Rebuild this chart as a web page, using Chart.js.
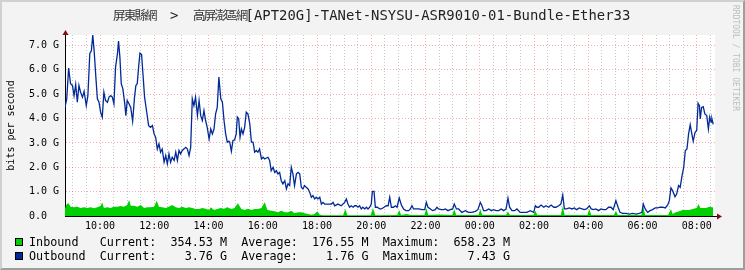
<!DOCTYPE html>
<html>
<head>
<meta charset="utf-8">
<script src="https://cdn.jsdelivr.net/npm/chart.js@4"></script>
<style>
  html, body { margin: 0; padding: 0; }
  body { width: 745px; height: 270px; overflow: hidden; position: relative; background: #f3f3f3; }
  #frame { position: absolute; left: 0; top: 0; width: 745px; height: 270px; box-sizing: border-box;
           border-top: 2px solid #d0d0d0; border-left: 2px solid #d0d0d0;
           border-right: 2px solid #9e9e9e; border-bottom: 2px solid #9e9e9e; }
  canvas { position: absolute; left: 0; top: 0; }
  .t { position: absolute; white-space: pre; color: #222; line-height: 16px; }
  .cjk { font-family: "Noto Sans CJK TC", "Noto Sans CJK SC", sans-serif; font-size: 12.5px; letter-spacing: -1.8px; top: 7px; color: #333; }
  .ttl { font-family: "DejaVu Sans Mono", monospace; font-size: 13.9px; top: 7px; }
  .leg { font-family: "DejaVu Sans Mono", monospace; font-size: 11.75px; line-height: 14px; color: #000; }
  .box { position: absolute; width: 6px; height: 6px; border: 1px solid #000; }
  #wm { position: absolute; left: 731px; top: 5px; writing-mode: vertical-rl; font-family: "DejaVu Sans Mono", monospace;
        font-size: 8px; line-height: 8px; color: #bdbdbd; white-space: pre; }
</style>
</head>
<body>
<div id="frame"></div>
<canvas id="rrd" width="745" height="270"></canvas>

<div class="t cjk" style="left:113px">屏東縣網</div>
<div class="t ttl" style="left:170px">&gt;</div>
<div class="t cjk" style="left:193px">高屏澎區網</div>
<div class="t ttl" style="left:245.6px">[APT20G]-TANet-NSYSU-ASR9010-01-Bundle-Ether33</div>
<div id="wm">RRDTOOL / TOBI OETIKER</div>

<div class="box" style="left:15px;top:238px;background:#00cf00"></div>
<div class="box" style="left:15px;top:252px;background:#002a97"></div>
<div class="t leg" style="left:29px;top:235px">Inbound   Current:  354.53 M  Average:  176.55 M  Maximum:  658.23 M</div>
<div class="t leg" style="left:29px;top:249px">Outbound  Current:    3.76 G  Average:    1.76 G  Maximum:    7.43 G</div>

<script>
// hours since midnight of the first day (values past 24 are the next morning)
const outHours = [
  8.70, 8.77, 8.84, 8.91, 8.98, 9.04, 9.10, 9.16, 9.22, 9.28, 9.35, 9.41, 9.49, 9.55, 9.62, 9.68, 9.73, 9.78, 9.84, 9.90,
  9.96, 10.02, 10.08, 10.14, 10.20, 10.27, 10.33, 10.39, 10.45, 10.51, 10.57, 10.64, 10.68, 10.73, 10.78, 10.84, 10.91, 10.95, 11.00, 11.07,
  11.13, 11.20, 11.27, 11.32, 11.37, 11.42, 11.47, 11.53, 11.58, 11.64, 11.72, 11.79, 11.86, 11.93, 11.99, 12.05, 12.11, 12.17, 12.23, 12.29,
  12.36, 12.42, 12.48, 12.54, 12.60, 12.66, 12.73, 12.79, 12.85, 12.91, 12.97, 13.03, 13.09, 13.16, 13.22, 13.28, 13.34, 13.40, 13.46, 13.52,
  13.59, 13.65, 13.71, 13.77, 13.83, 13.89, 13.95, 14.02, 14.08, 14.14, 14.20, 14.26, 14.32, 14.38, 14.45, 14.51, 14.57, 14.63, 14.69, 14.75,
  14.78, 14.84, 14.90, 14.96, 15.02, 15.06, 15.11, 15.16, 15.21, 15.27, 15.33, 15.39, 15.45, 15.52, 15.58, 15.64, 15.70, 15.76, 15.82, 15.88,
  15.95, 16.01, 16.07, 16.13, 16.19, 16.25, 16.31, 16.38, 16.44, 16.50, 16.56, 16.62, 16.68, 16.74, 16.81, 16.87, 16.93, 16.99, 17.05, 17.11,
  17.17, 17.24, 17.30, 17.36, 17.42, 17.48, 17.54, 17.60, 17.67, 17.73, 17.79, 17.85, 17.91, 17.97, 18.03, 18.10, 18.16, 18.22, 18.28, 18.40,
  18.53, 18.59, 18.65, 18.77, 18.89, 19.02, 19.08, 19.14, 19.20, 19.26, 19.33, 19.39, 19.45, 19.51, 19.57, 19.63, 19.69, 19.76, 19.82, 19.88,
  19.94, 20.00, 20.04, 20.10, 20.15, 20.22, 20.31, 20.37, 20.47, 20.55, 20.62, 20.68, 20.74, 20.82, 20.89, 20.95, 21.03, 21.11, 21.19, 21.28,
  21.38, 21.44, 21.50, 21.56, 21.65, 21.75, 21.87, 21.97, 22.03, 22.09, 22.18, 22.26, 22.36, 22.42, 22.48, 22.58, 22.67, 22.73, 22.83, 22.91,
  23.00, 23.06, 23.14, 23.22, 23.34, 23.47, 23.59, 23.71, 23.84, 23.93, 24.02, 24.08, 24.14, 24.23, 24.33, 24.43, 24.51, 24.60, 24.70, 24.79,
  24.88, 24.97, 25.04, 25.10, 25.19, 25.29, 25.37, 25.49, 25.62, 25.74, 25.86, 25.99, 26.05, 26.11, 26.17, 26.26, 26.36, 26.44, 26.54, 26.63,
  26.73, 26.81, 26.91, 26.99, 27.06, 27.12, 27.20, 27.30, 27.40, 27.49, 27.57, 27.67, 27.77, 27.85, 27.94, 28.04, 28.11, 28.20, 28.28, 28.38,
  28.47, 28.56, 28.65, 28.75, 28.84, 28.92, 29.02, 29.10, 29.17, 29.27, 29.39, 29.51, 29.64, 29.76, 29.88, 29.98, 30.03, 30.10, 30.19, 30.28,
  30.37, 30.47, 30.56, 30.65, 30.74, 30.84, 30.93, 30.99, 31.05, 31.11, 31.20, 31.26, 31.33, 31.39, 31.46, 31.52, 31.58, 31.64, 31.70, 31.76,
  31.82, 31.87, 31.94, 32.00, 32.05, 32.10, 32.13, 32.18, 32.24, 32.30, 32.37, 32.43, 32.48, 32.53, 32.56, 32.61
];
// outbound, Gbit/s
const outGbps = [
  4.44, 4.81, 6.07, 5.43, 5.36, 4.94, 5.40, 4.67, 5.36, 5.08, 4.88, 5.12, 4.53, 4.94, 6.66, 6.79, 7.43, 6.79, 5.77, 4.81,
  4.67, 4.26, 4.06, 5.08, 4.74, 4.67, 4.88, 4.94, 4.88, 4.60, 6.11, 6.66, 7.18, 6.52, 5.43, 5.22, 4.60, 4.12, 4.74, 4.60,
  4.46, 3.89, 4.88, 5.36, 5.43, 6.11, 6.69, 6.63, 5.84, 4.88, 4.26, 3.71, 3.64, 3.71, 3.37, 3.23, 2.75, 2.96, 2.62, 2.75,
  2.21, 2.48, 2.14, 2.55, 2.21, 2.41, 2.28, 2.62, 2.28, 2.69, 2.55, 2.69, 2.75, 2.82, 2.75, 2.48, 2.82, 4.81, 4.53, 4.88,
  4.12, 4.74, 4.12, 3.92, 4.33, 3.92, 3.64, 3.16, 3.57, 3.37, 3.57, 4.19, 4.46, 5.70, 4.81, 4.67, 3.92, 3.37, 3.03, 3.07,
  3.03, 2.66, 3.10, 3.12, 3.37, 4.06, 3.99, 3.23, 3.57, 3.37, 3.64, 4.26, 4.19, 3.78, 3.03, 3.03, 2.62, 2.69, 2.62, 2.75,
  2.34, 2.41, 2.34, 2.38, 2.41, 2.28, 1.86, 2.00, 1.79, 1.86, 1.73, 1.79, 1.45, 1.32, 1.45, 1.11, 1.32, 1.25, 2.00, 1.73,
  1.25, 1.73, 1.79, 1.73, 1.18, 1.11, 1.25, 1.18, 1.11, 0.97, 0.77, 0.84, 0.70, 0.77, 0.70, 0.77, 0.49, 0.56, 0.49, 0.49,
  0.49, 0.56, 0.42, 0.49, 0.42, 0.56, 0.70, 0.49, 0.36, 0.42, 0.36, 0.42, 0.42, 0.36, 0.42, 0.29, 0.36, 0.29, 0.36, 0.29,
  0.36, 0.49, 1.01, 1.01, 0.36, 0.36, 0.29, 0.29, 0.36, 0.42, 0.42, 0.77, 0.36, 0.36, 0.42, 0.36, 0.74, 0.45, 0.29, 0.22,
  0.22, 0.29, 0.42, 0.29, 0.29, 0.29, 0.26, 0.26, 0.56, 0.36, 0.29, 0.22, 0.26, 0.36, 0.29, 0.26, 0.26, 0.29, 0.22, 0.26,
  0.29, 0.49, 0.29, 0.29, 0.15, 0.22, 0.15, 0.15, 0.19, 0.26, 0.56, 0.42, 0.22, 0.22, 0.29, 0.22, 0.26, 0.22, 0.22, 0.29,
  0.22, 0.29, 0.73, 0.36, 0.22, 0.22, 0.29, 0.15, 0.15, 0.15, 0.22, 0.15, 0.42, 0.36, 0.36, 0.45, 0.36, 0.42, 0.36, 0.45,
  0.36, 0.36, 0.42, 0.49, 0.86, 0.29, 0.29, 0.33, 0.29, 0.33, 0.26, 0.33, 0.29, 0.26, 0.29, 0.42, 0.29, 0.26, 0.29, 0.22,
  0.29, 0.26, 0.26, 0.36, 0.36, 0.26, 0.63, 0.36, 0.15, 0.11, 0.11, 0.08, 0.11, 0.08, 0.11, 0.15, 0.49, 0.29, 0.15, 0.22,
  0.26, 0.33, 0.33, 0.36, 0.36, 0.33, 0.45, 0.63, 1.15, 1.04, 0.79, 0.90, 1.25, 1.18, 1.66, 2.00, 2.69, 2.75, 3.37, 3.75,
  3.37, 3.07, 3.44, 3.51, 4.63, 4.53, 3.99, 4.46, 4.49, 4.19, 4.12, 3.57, 4.06, 3.85, 3.99, 3.76
];

const inHours = [
  8.70, 8.77, 8.84, 8.91, 9.04, 9.16, 9.28, 9.41, 9.53, 9.65, 9.78, 9.90, 10.02, 10.08, 10.14, 10.27, 10.39, 10.51, 10.64, 10.76,
  10.88, 11.00, 11.07, 11.13, 11.25, 11.37, 11.50, 11.62, 11.74, 11.86, 11.99, 12.09, 12.17, 12.29, 12.42, 12.54, 12.66, 12.79, 12.91, 13.03,
  13.16, 13.28, 13.40, 13.52, 13.65, 13.77, 13.89, 14.02, 14.08, 14.20, 14.32, 14.45, 14.57, 14.69, 14.84, 14.96, 15.08, 15.21, 15.33, 15.45,
  15.58, 15.70, 15.82, 15.95, 16.07, 16.17, 16.31, 16.44, 16.56, 16.68, 16.81, 16.93, 17.05, 17.17, 17.30, 17.42, 17.54, 17.67, 17.79, 17.91,
  18.01, 18.10, 18.22, 18.96, 19.04, 19.12, 19.98, 20.06, 20.15, 20.96, 21.03, 21.10, 21.30, 21.45, 21.96, 22.03, 22.10, 22.50, 22.99, 23.06,
  23.13, 23.95, 24.02, 24.09, 24.60, 24.97, 25.04, 25.11, 25.98, 26.05, 26.12, 26.99, 27.06, 27.13, 27.97, 28.04, 28.11, 28.95, 29.02, 29.09,
  29.96, 30.03, 30.10, 30.95, 31.05, 31.11, 31.23, 31.36, 31.48, 31.60, 31.73, 31.85, 32.00, 32.07, 32.13, 32.22, 32.34, 32.47, 32.61
];
// inbound, Gbit/s
const inGbps = [
  0.29, 0.49, 0.52, 0.38, 0.36, 0.38, 0.33, 0.36, 0.33, 0.36, 0.32, 0.36, 0.41, 0.55, 0.33, 0.36, 0.33, 0.38, 0.38, 0.41,
  0.38, 0.45, 0.66, 0.42, 0.42, 0.38, 0.45, 0.33, 0.36, 0.36, 0.38, 0.63, 0.38, 0.36, 0.33, 0.38, 0.45, 0.36, 0.33, 0.38,
  0.33, 0.36, 0.33, 0.29, 0.29, 0.33, 0.30, 0.25, 0.36, 0.25, 0.29, 0.33, 0.30, 0.36, 0.29, 0.33, 0.52, 0.29, 0.25, 0.30,
  0.25, 0.29, 0.29, 0.33, 0.56, 0.25, 0.22, 0.19, 0.15, 0.22, 0.15, 0.15, 0.22, 0.11, 0.15, 0.15, 0.11, 0.08, 0.05, 0.08,
  0.19, 0.05, 0.03, 0.03, 0.29, 0.03, 0.03, 0.33, 0.03, 0.04, 0.25, 0.04, 0.08, 0.04, 0.04, 0.33, 0.04, 0.06, 0.04, 0.29,
  0.04, 0.04, 0.29, 0.04, 0.05, 0.04, 0.18, 0.04, 0.04, 0.22, 0.04, 0.04, 0.40, 0.04, 0.04, 0.29, 0.04, 0.04, 0.22, 0.04,
  0.04, 0.36, 0.04, 0.04, 0.29, 0.08, 0.15, 0.20, 0.25, 0.25, 0.25, 0.29, 0.33, 0.49, 0.33, 0.33, 0.33, 0.38, 0.35
];

const xMajorHours = [10, 12, 14, 16, 18, 20, 22, 24, 26, 28, 30, 32];
const xLabels = ['10:00', '12:00', '14:00', '16:00', '18:00', '20:00', '22:00', '00:00', '02:00', '04:00', '06:00', '08:00'];
const yMajor = [0, 1, 2, 3, 4, 5, 6, 7];
const yLabels = ['0.0  ', '1.0 G', '2.0 G', '3.0 G', '4.0 G', '5.0 G', '6.0 G', '7.0 G'];

const GRID = 'rgba(150,150,150,0.55)';
const MGRID = 'rgba(230,70,70,0.45)';
const MONO = 'DejaVu Sans Mono';

function pairs(xs, ys) {
  return xs.map((x, i) => ({ x: x, y: ys[i] }));
}

// white canvas behind the plot and the two red axis arrows
const rrdDecor = {
  id: 'rrdDecor',
  beforeDraw(chart) {
    const { ctx, chartArea: a } = chart;
    ctx.save();
    ctx.fillStyle = '#ffffff';
    ctx.fillRect(a.left, a.top, a.right - a.left, a.bottom - a.top);
    ctx.restore();
  },
  afterDraw(chart) {
    const { ctx, chartArea: a } = chart;
    const x0 = Math.round(a.left) + 0.5, y0 = Math.round(a.bottom) + 0.5;
    ctx.save();
    ctx.strokeStyle = '#000';
    ctx.lineWidth = 1;
    ctx.beginPath();
    ctx.moveTo(a.right, y0); ctx.lineTo(a.right + 2, y0);
    ctx.stroke();
    ctx.fillStyle = '#7f1010';
    ctx.beginPath();
    ctx.moveTo(a.right + 2, y0 - 3); ctx.lineTo(a.right + 7, y0); ctx.lineTo(a.right + 2, y0 + 3);
    ctx.closePath(); ctx.fill();
    ctx.beginPath();
    ctx.moveTo(x0 - 3, a.top); ctx.lineTo(x0, a.top - 5); ctx.lineTo(x0 + 3, a.top);
    ctx.closePath(); ctx.fill();
    ctx.restore();
  }
};

new Chart(document.getElementById('rrd'), {
  type: 'line',
  data: {
    datasets: [{
      label: 'Outbound',
      data: pairs(outHours, outGbps),
      borderColor: '#002a97',
      borderWidth: 1.3,
      pointRadius: 0,
      fill: false,
      order: 0
    }, {
      label: 'Inbound',
      data: pairs(inHours, inGbps),
      borderColor: 'rgba(0,0,0,0)',
      backgroundColor: '#00cf00',
      borderWidth: 1,
      pointRadius: 0,
      fill: 'origin',
      order: 1
    }]
  },
  options: {
    responsive: false,
    animation: false,
    devicePixelRatio: 1,
    layout: { padding: { left: 0, right: 30, top: 35, bottom: 34 } },
    plugins: { legend: { display: false }, title: { display: false }, tooltip: { enabled: false } },
    elements: { line: { tension: 0 } },
    scales: {
      x: {
        type: 'linear',
        position: 'bottom',
        min: 8.706,
        max: 32.674,
        afterBuildTicks(axis) {
          const ticks = [];
          for (let h = 9; h <= 32.5; h += 0.5) ticks.push({ value: h });
          axis.ticks = ticks;
        },
        afterFit(axis) { axis.height = 20; },
        ticks: {
          autoSkip: false,
          maxRotation: 0,
          padding: 4,
          color: '#000',
          font: { family: MONO, size: 10 },
          callback(v) {
            const i = xMajorHours.indexOf(v);
            return i < 0 ? '' : xLabels[i];
          }
        },
        grid: {
          drawTicks: false,
          color: (ctx) => (ctx.tick && xMajorHours.includes(ctx.tick.value)) ? MGRID : GRID
        },
        border: { display: true, color: '#000', dash: [1, 2] }
      },
      y: {
        type: 'linear',
        position: 'left',
        min: 0,
        max: 7.43,
        afterBuildTicks(axis) {
          const ticks = [];
          for (let v = 0; v <= 7; v += 0.5) ticks.push({ value: v });
          axis.ticks = ticks;
        },
        afterFit(axis) { axis.width = 65; },
        ticks: {
          padding: 6,
          color: '#000',
          font: { family: MONO, size: 10 },
          callback(v) {
            const i = yMajor.indexOf(v);
            return i < 0 ? '' : yLabels[i];
          }
        },
        title: {
          display: true,
          text: 'bits per second',
          color: '#000',
          font: { family: MONO, size: 10 },
          padding: { top: 5.5, bottom: 0 }
        },
        grid: {
          drawTicks: false,
          color: (ctx) => (ctx.tick && yMajor.includes(ctx.tick.value)) ? MGRID : GRID
        },
        border: { display: true, color: '#000', dash: [1, 2] }
      }
    }
  },
  plugins: [rrdDecor]
});
</script>
</body>
</html>
